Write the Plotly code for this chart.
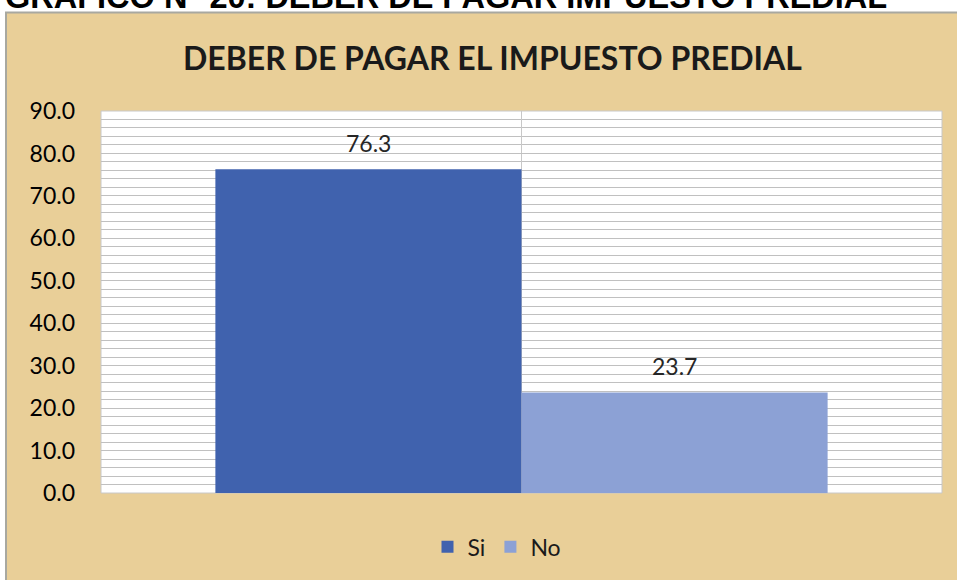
import plotly.graph_objects as go

categories = [""]
series_names = ["Si", "No"]
values_si = [76.3]
values_no = [23.7]
y_ticks = [0, 10, 20, 30, 40, 50, 60, 70, 80, 90]
title_text = "DEBER DE PAGAR EL IMPUESTO PREDIAL"
caption_text = "GRAFICO N° 20: DEBER DE PAGAR IMPUESTO PREDIAL"

W, H = 957, 580
L, R, T, B = 101, 942, 111, 495

def px_x(p):
    return (p - L) / (R - L)

def px_y(p):
    return (B - p) / (B - T)

FONT = "Lato"
colors = ["#4062AE", "#8CA1D5"]
BARGAP = 0.272
bar_offsets = [-(1 - BARGAP) / 4, (1 - BARGAP) / 4]

fig = go.Figure()
for name, vals, col in zip(series_names, [values_si, values_no], colors):
    fig.add_trace(go.Bar(
        x=categories, y=vals, name=name,
        marker=dict(color=col, line=dict(width=0)),
    ))

label_annotations = []
for vals, off in zip([values_si, values_no], bar_offsets):
    for v in vals:
        label_annotations.append(dict(
            text=f"{v:.1f}", xref="x", yref="y", x=off, y=v,
            xanchor="center", yanchor="middle", yshift=26, showarrow=False,
            font=dict(family=FONT, size=23, color="#262626")))

fig.update_layout(
    width=W, height=H,
    margin=dict(l=L, r=W - R, t=T, b=H - B, pad=0),
    paper_bgcolor="white",
    plot_bgcolor="rgba(0,0,0,0)",
    barmode="group", bargap=BARGAP, bargroupgap=0,
    showlegend=True,
    legend=dict(orientation="h", x=px_x(497), xanchor="center",
                y=px_y(549), yanchor="middle",
                font=dict(family=FONT, size=23, color="#1a1a1a"),
                bgcolor="rgba(0,0,0,0)", itemwidth=30, tracegroupgap=0),
    xaxis=dict(showticklabels=False, showgrid=True, gridcolor="#C8C8C8",
               gridwidth=1, zeroline=False, showline=False, ticks=""),
    yaxis=dict(range=[0, 90], tickvals=y_ticks,
               ticktext=[f"{v:.1f}" for v in y_ticks],
               tickfont=dict(family=FONT, size=23, color="#000000"),
               showgrid=True, gridcolor="#C0C0C0", gridwidth=1,
               minor=dict(dtick=2, showgrid=True, gridcolor="#C0C0C0", gridwidth=1),
               zeroline=False, showline=False, ticks="", ticklabelstandoff=25),
    shapes=[
        dict(type="rect", xref="paper", yref="paper", layer="below",
             x0=px_x(6), x1=px_x(970), y0=px_y(12), y1=px_y(600),
             fillcolor="#E9CF98", line=dict(color="#A8A8A0", width=2)),
        dict(type="rect", xref="paper", yref="paper", layer="below",
             x0=0, x1=1, y0=0, y1=1,
             fillcolor="white", line=dict(color="#C8C8C8", width=1)),
    ],
    annotations=[
        dict(text=f"<b>{title_text}</b>", xref="paper", yref="paper",
             x=px_x(492), y=px_y(57), xanchor="center", yanchor="middle",
             showarrow=False, font=dict(family=FONT, size=32, color="#1a1a1a")),
        dict(text=f"<b>{caption_text}</b>", xref="paper", yref="paper",
             x=px_x(3), y=px_y(-4), xanchor="left", yanchor="middle",
             showarrow=False, font=dict(family="Liberation Sans", size=32.5, color="#000000")),
    ] + label_annotations,
)

fig.write_html("out.html", config={"displayModeBar": False},
               post_script="document.body.style.margin='0';")
